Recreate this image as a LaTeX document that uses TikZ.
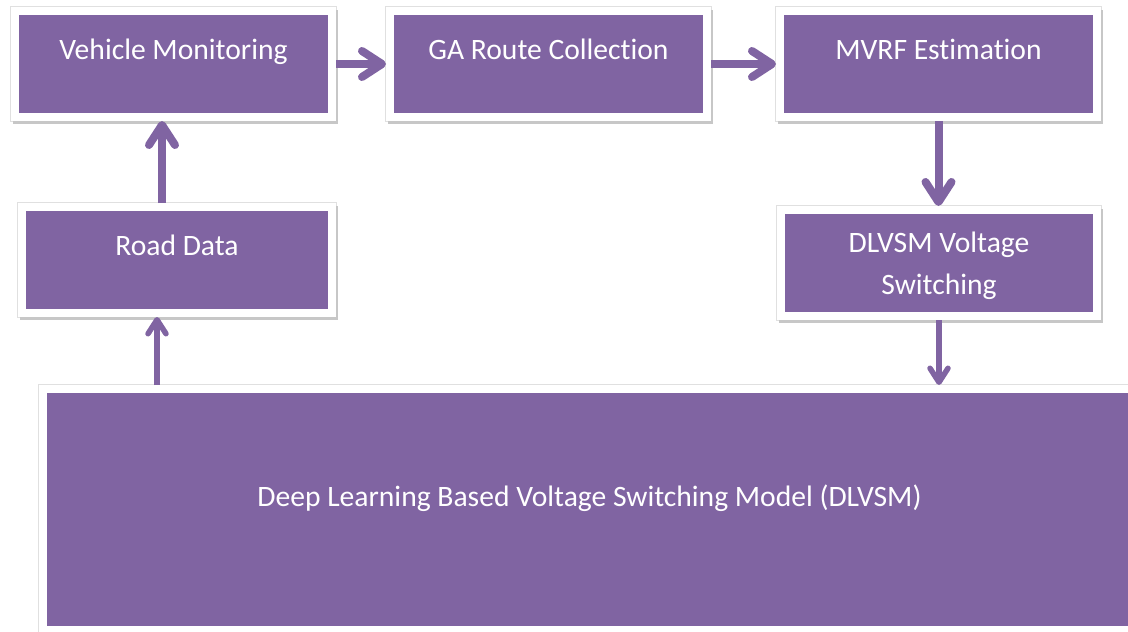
\documentclass[tikz,border=0pt]{standalone}
\usepackage{fontspec}
\setmainfont{Carlito}[Ligatures=NoCommon]
\usetikzlibrary{arrows.meta,shadows}
\definecolor{boxpurple}{HTML}{8064A2}
\tikzset{
  block/.style={draw=white, line width=8pt, fill=boxpurple, text=white, inner sep=0pt,
    font=\fontsize{29.6}{42}\selectfont,
    preaction={draw=black!12, line width=10pt},
    drop shadow={shadow xshift=2pt, shadow yshift=-3pt, fill=black!22, draw=black!22, line width=8pt, opacity=1}},
  toptext/.style={text height=20pt, text depth=30pt},
  flow/.style={draw=boxpurple, line width=8pt, -{Straight Barb[length=20pt,width=26pt,round]}},
  thinflow/.style={draw=boxpurple, line width=5.5pt, -{Straight Barb[length=14pt,width=18pt,round]}}
}
\begin{document}
\begin{tikzpicture}[x=1pt, y=-1pt]
    \clip (0,0) rectangle (1128,632);

    % top row
    \node[block, toptext, minimum width=317pt, minimum height=106pt] (veh) at (173.5,64) {Vehicle Monitoring};
    \node[block, toptext, minimum width=317pt, minimum height=106pt] (ga) at (548.5,64) {GA Route Collection};
    \node[block, toptext, minimum width=317pt, minimum height=106pt] (mvrf) at (938.5,64) {MVRF Estimation};

    % middle row
    \node[block, toptext, minimum width=310pt, minimum height=106pt] (road) at (177,260) {Road Data};
    \node[block, align=center, minimum width=316pt, minimum height=106pt] (dlvsm) at (939,263) {\rule{0pt}{26pt}DLVSM Voltage\\Switching};

    % model
    \node[block, text height=20pt, text depth=26pt, minimum width=1093pt, minimum height=241pt] (model) at (589.5,509.5) {Deep Learning Based Voltage Switching Model (DLVSM)};

    \coordinate (up) at (162,0);
    \coordinate (rd) at (157,0);

    \draw[flow] (veh) -- (ga);
    \draw[flow] (ga) -- (mvrf);
    \draw[flow] (mvrf.south) -- (mvrf.south |- dlvsm.north);
    \draw[flow] (road.north -| up) -- (veh.south -| up);
    \draw[thinflow] (model.north -| rd) -- (road.south -| rd);
    \draw[thinflow] (dlvsm.south) -- (dlvsm.south |- model.north);
\end{tikzpicture}
\end{document}
